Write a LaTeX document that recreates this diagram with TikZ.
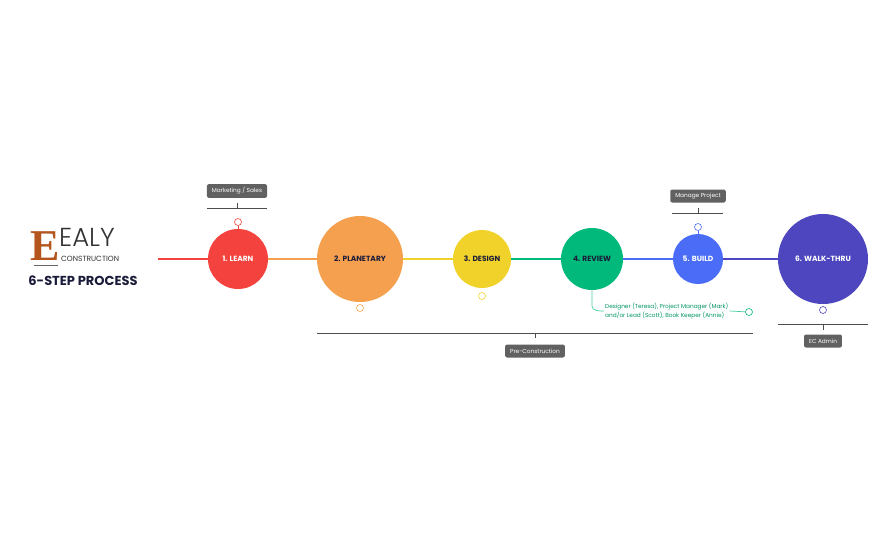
\documentclass[tikz,border=0pt]{standalone}
\usepackage{fontspec}
\setmainfont{Poppins}
\begin{document}
\begin{tikzpicture}[x=1pt,y=-1pt,
  step circle/.style={circle,inner sep=0pt,minimum size=#1,font=\fontsize{7.5}{8}\selectfont\bfseries},
  tag/.style={fill=black!62,text=white,rounded corners=2pt,font=\fontsize{5.8}{6}\selectfont,minimum height=13pt,inner xsep=5pt},
  icon/.style={circle,draw=#1,fill=white,inner sep=0pt,minimum size=7pt,line width=0.6pt},
  seg/.style={line width=1.2pt,draw=#1}]
\useasboundingbox (0,0) rectangle (876,542);
\definecolor{cr}{HTML}{F4433F}\definecolor{co}{HTML}{F5A04E}\definecolor{cy}{HTML}{F0D22A}
\definecolor{cg}{HTML}{00B97A}\definecolor{cb}{HTML}{4A6CF7}\definecolor{cp}{HTML}{4E46BE}
\definecolor{brn}{HTML}{B5551E}\definecolor{navy}{HTML}{1B1B3A}
\coordinate (start) at (158,259);
\node[step circle=60pt,fill=cr,text=white] (s1) at (238,259) {1. LEARN};
\node[step circle=86pt,fill=co,text=navy] (s2) at (360,259) {2. PLANETARY};
\node[step circle=58pt,fill=cy,text=navy] (s3) at (482,259) {3. DESIGN};
\node[step circle=62pt,fill=cg,text=navy] (s4) at (592,259) {4. REVIEW};
\node[step circle=50pt,fill=cb,text=white] (s5) at (698,259) {5. BUILD};
\node[step circle=90pt,fill=cp,text=white] (s6) at (823,259) {6. WALK-THRU};
\draw[seg=cr] (start) -- (s1.west);
\draw[seg=co] (s1.east) -- (s2.west);
\draw[seg=cy] (s2.east) -- (s3.west);
\draw[seg=cg] (s3.east) -- (s4.west);
\draw[seg=cb] (s4.east) -- (s5.west);
\draw[seg=cp] (s5.east) -- (s6.west);
% icons
\node[icon=cr] (i1) at (238,222) {};
\draw[cr,line width=0.6pt] (i1) -- (s1.north);
\node[icon=co] (i2) at (360,308) {};
\node[icon=cy] (i3) at (482,296) {};
\node[icon=cb] (i5) at (698,227) {};
\draw[cb,line width=0.6pt] (i5) -- (s5.north);
\node[icon=cp] (i6) at (823,310) {};
% top labels
\node[tag] (t1) at (237,191) {Marketing / Sales};
\draw[black!70,line width=0.7pt] (207,208) -- (267,208) (237,208) -- (237,203);
\node[tag] (t5) at (698,196) {Manage Project};
\draw[black!70,line width=0.7pt] (672,213) -- (723,213) (698,213) -- (698,208);
% bottom labels
\draw[black!70,line width=0.7pt] (317,333) -- (753,333) (535,333) -- (535,338);
\node[tag] (tpc) at (535,351) {Pre-Construction};
\draw[black!70,line width=0.7pt] (778,324) -- (868,324) (823,324) -- (823,330);
\node[tag] (tec) at (823,341) {EC Admin};
% review note
\node[align=left,anchor=west,text=cg!80!black,font=\fontsize{5.8}{9}\selectfont,inner sep=1pt] (note) at (604,311) {Designer (Teresa), Project Manager (Mark)\\and/or Lead (Scott), Book Keeper (Annie)};
\draw[cg!70,line width=0.7pt] (s4.south) -- (592,306) to[out=-90,in=180] (note.west);
\node[icon=cg] (ig) at (749,312) {};
\draw[cg!70,line width=0.7pt] (note.east) -- (ig);
% logo
\node[text=brn,font=\fontsize{44}{44}\selectfont\bfseries\fontspec{Liberation Serif},inner sep=0pt] (logoE) at (45,246) {E};
\node[anchor=west,font=\fontsize{26}{26}\selectfont\fontspec{Poppins Light},text=black!80,inner sep=0pt] (ealy) at (59,237) {EALY};
\node[anchor=west,font=\fontsize{7.5}{7}\selectfont,text=black!80,inner sep=0pt] (cons) at (61,259) {CONSTRUCTION};
\draw[black!60,line width=0.5pt] (34,265) -- (58,265);
\node[font=\fontsize{13}{13}\selectfont\bfseries,text=navy,inner sep=0pt] (title) at (83,281) {6-STEP PROCESS};
\end{tikzpicture}
\end{document}
